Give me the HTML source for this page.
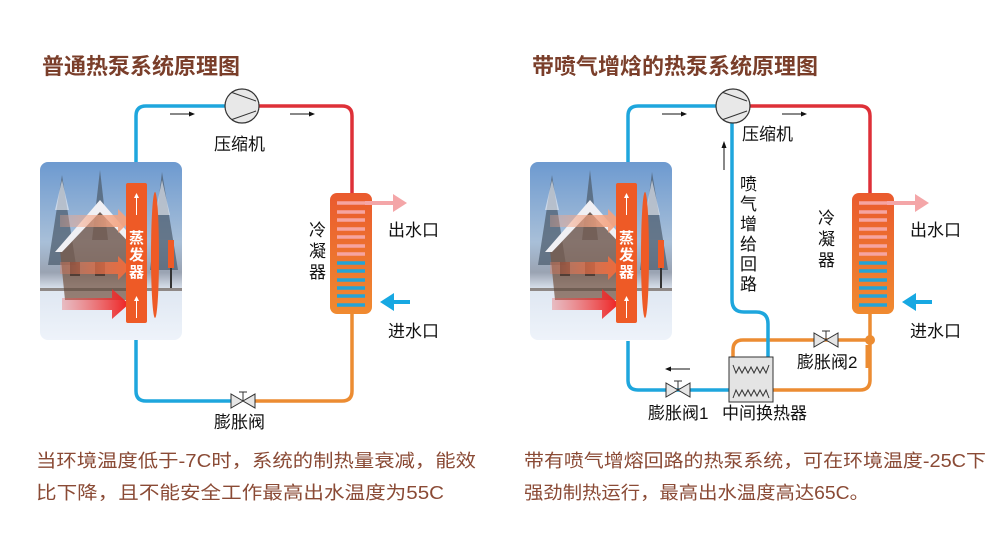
<!DOCTYPE html>
<html><head><meta charset="utf-8"><style>
body{margin:0;background:#fff}
svg{display:block}
text{font-family:"Liberation Sans","Noto Sans CJK SC",sans-serif}
</style></head><body>
<svg width="1000" height="550" viewBox="0 0 1000 550" xmlns="http://www.w3.org/2000/svg">
<defs>
<linearGradient id="sky" x1="0" y1="0" x2="0" y2="1">
<stop offset="0" stop-color="#6d9ad0"/><stop offset="0.45" stop-color="#a8bfd8"/><stop offset="0.62" stop-color="#9aa3b2"/><stop offset="0.72" stop-color="#dfe7f2"/><stop offset="1" stop-color="#eef3fa"/></linearGradient>
<linearGradient id="cond" x1="0" y1="0" x2="0" y2="1"><stop offset="0" stop-color="#ea5a2e"/><stop offset="1" stop-color="#f08a30"/></linearGradient>
<linearGradient id="ar1" x1="0" x2="1"><stop offset="0" stop-color="#f6a88a" stop-opacity="0.3"/><stop offset="1" stop-color="#f4a27e"/></linearGradient>
<linearGradient id="ar2" x1="0" x2="1"><stop offset="0" stop-color="#f08060" stop-opacity="0.3"/><stop offset="1" stop-color="#ee6a3a"/></linearGradient>
<linearGradient id="ar3" x1="0" x2="1"><stop offset="0" stop-color="#f05050" stop-opacity="0.3"/><stop offset="1" stop-color="#ee2020"/></linearGradient>
<g id="scene">
<rect x="40" y="162" width="142" height="178" rx="8" fill="url(#sky)"/>
<g fill="#4f5f70" opacity="0.75">
<polygon points="48,265 62,175 76,265"/><polygon points="92,240 100,170 108,240"/><polygon points="150,270 162,172 178,270"/>
</g>
<g fill="#f2f4f8" opacity="0.6"><polygon points="55,210 62,180 69,210"/><polygon points="155,215 162,180 170,215"/></g>
<polygon points="60,250 100,205 140,250 140,300 65,300" fill="#7a5a48" opacity="0.75"/>
<polygon points="55,252 100,200 145,252 138,252 100,212 62,252" fill="#f0f0f4"/>
<rect x="70" y="262" width="10" height="14" fill="#3a2a22" opacity="0.7"/><rect x="95" y="262" width="10" height="14" fill="#3a2a22" opacity="0.7"/>
<rect x="40" y="288" width="142" height="3" fill="#5a4a40" opacity="0.6"/>
<path d="M60 215 h58 v-6 l12 12 l-12 12 v-6 h-58z" fill="url(#ar1)"/>
<path d="M60 262 h58 v-6 l12 12 l-12 12 v-6 h-58z" fill="url(#ar2)"/>
<path d="M62 298 h50 v-9 l17 15 l-17 15 v-9 h-50z" fill="url(#ar3)"/>
<rect x="126" y="183" width="21" height="140" rx="2" fill="#ee5a26"/>
<line x1="136.5" y1="215" x2="136.5" y2="196" stroke="#fff" stroke-width="1"/><polygon points="134,198 139,198 136.5,193" fill="#fff"/>
<line x1="136.5" y1="318" x2="136.5" y2="299" stroke="#fff" stroke-width="1"/><polygon points="134,301 139,301 136.5,296" fill="#fff"/>
<text x="136.5" y="243" font-size="15" fill="#fff" text-anchor="middle" font-weight="bold">蒸</text>
<text x="136.5" y="260" font-size="15" fill="#fff" text-anchor="middle" font-weight="bold">发</text>
<text x="136.5" y="277" font-size="15" fill="#fff" text-anchor="middle" font-weight="bold">器</text>
<ellipse cx="155" cy="255" rx="4" ry="63" fill="#ee5a26"/>
<rect x="168" y="240" width="6" height="28" fill="#ee5a26"/>
<rect x="170" y="268" width="2" height="20" fill="#333"/>
</g>
<g id="vh"><polygon points="-12,-7 -12,7 0,0" fill="#e6e6e6" stroke="#333" stroke-width="1"/><polygon points="12,-7 12,7 0,0" fill="#e6e6e6" stroke="#333" stroke-width="1"/><line x1="0" y1="0" x2="0" y2="-9" stroke="#333"/><line x1="-4" y1="-9" x2="4" y2="-9" stroke="#333"/></g>
<g id="comp"><circle r="17" fill="#e8e8e8" stroke="#333" stroke-width="1.2"/><line x1="-10" y1="-13.5" x2="14" y2="-5" stroke="#333"/><line x1="-10" y1="13.5" x2="14" y2="5" stroke="#333"/></g>
<g id="arrowR"><line x1="0" y1="0" x2="22" y2="0" stroke="#111" stroke-width="1"/><polygon points="19,-2.5 25,0 19,2.5" fill="#111"/></g>
</defs>

<text x="42" y="74" font-size="22" font-weight="bold" fill="#7a3e2a">普通热泵系统原理图</text>
<text x="532" y="74" font-size="22" font-weight="bold" fill="#7a3e2a">带喷气增焓的热泵系统原理图</text>

<!-- LEFT -->
<g fill="none" stroke-width="3.5">
<path d="M136 162 V116 q0 -10 10 -10 H225" stroke="#1ea6dd"/>
<path d="M259 106 H342 q10 0 10 10 V193" stroke="#de3038"/>
<path d="M352 314 V391 q0 10 -10 10 H255" stroke="#ec8c32"/>
<path d="M231 401 H146 q-10 0 -10 -10 V340" stroke="#1ea6dd"/>
</g>
<use href="#comp" x="242" y="106"/>
<use href="#arrowR" x="170" y="114"/><use href="#arrowR" x="290" y="114"/>
<text x="214" y="150" font-size="17" fill="#111">压缩机</text>
<use href="#scene"/>
<rect x="330" y="193" width="42" height="121" rx="7" fill="url(#cond)"/>
<g stroke="#f6a4a0" stroke-width="3.5"><line x1="337" y1="203" x2="365" y2="203"/><line x1="337" y1="212" x2="365" y2="212"/><line x1="337" y1="220" x2="365" y2="220"/><line x1="337" y1="229" x2="365" y2="229"/><line x1="337" y1="237" x2="365" y2="237"/><line x1="337" y1="246" x2="365" y2="246"/><line x1="337" y1="254" x2="365" y2="254"/></g>
<g stroke="#24a3d6" stroke-width="3.5"><line x1="337" y1="263" x2="365" y2="263"/><line x1="337" y1="271" x2="365" y2="271"/><line x1="337" y1="280" x2="365" y2="280"/><line x1="337" y1="288" x2="365" y2="288"/><line x1="337" y1="296" x2="365" y2="296"/><line x1="337" y1="305" x2="365" y2="305"/></g>
<path d="M365 201 h28 v-7 l14 9 l-14 9 v-7 h-28z" fill="#f4a6a8"/>
<path d="M410 300 h-16 v-7 l-14 9 l14 9 v-7 h16z" fill="#17a8e2"/>
<text x="388" y="236" font-size="17" fill="#111">出水口</text>
<text x="388" y="337" font-size="17" fill="#111">进水口</text>
<text x="309" y="236" font-size="17" fill="#111">冷</text>
<text x="309" y="257" font-size="17" fill="#111">凝</text>
<text x="309" y="278" font-size="17" fill="#111">器</text>
<use href="#vh" x="243" y="401"/>
<text x="214" y="428" font-size="17" fill="#111">膨胀阀</text>

<!-- RIGHT -->
<g fill="none" stroke-width="3.5">
<path d="M628 162 V116 q0 -10 10 -10 H716" stroke="#1ea6dd"/>
<path d="M750 106 H860 q10 0 10 10 V193" stroke="#de3038"/>
<path d="M870 314 V380 q0 10 -10 10 H773" stroke="#ec8c32"/>
<path d="M870 340 H743 q-10 0 -10 10 V357" stroke="#ec8c32"/>
<path d="M729 390 H638 q-10 0 -10 -10 V341" stroke="#1ea6dd"/>
<path d="M732 122 V300 q0 12 12 12 H756 q12 0 12 12 V357" stroke="#1ea6dd"/>
</g>
<circle cx="870" cy="340" r="5" fill="#ec8c32"/>
<line x1="867" y1="345" x2="867" y2="368" stroke="#ec8c32" stroke-width="3"/>
<use href="#comp" x="733" y="106"/>
<use href="#arrowR" x="662" y="114"/><use href="#arrowR" x="782" y="114"/>
<line x1="724" y1="170" x2="724" y2="146" stroke="#111"/><polygon points="721.5,148 726.5,148 724,141" fill="#111"/>
<g transform="translate(690,369) scale(-1,1)"><use href="#arrowR"/></g>
<text x="742" y="140" font-size="17" fill="#111">压缩机</text>
<g font-size="17" fill="#111"><text x="740" y="190">喷</text><text x="740" y="210">气</text><text x="740" y="230">增</text><text x="740" y="250">给</text><text x="740" y="270">回</text><text x="740" y="290">路</text></g>
<g transform="translate(490,0)"><use href="#scene"/></g>
<rect x="852" y="193" width="42" height="121" rx="7" fill="url(#cond)"/>
<g stroke="#f6a4a0" stroke-width="3.5"><line x1="859" y1="203" x2="887" y2="203"/><line x1="859" y1="212" x2="887" y2="212"/><line x1="859" y1="220" x2="887" y2="220"/><line x1="859" y1="229" x2="887" y2="229"/><line x1="859" y1="237" x2="887" y2="237"/><line x1="859" y1="246" x2="887" y2="246"/><line x1="859" y1="254" x2="887" y2="254"/></g>
<g stroke="#24a3d6" stroke-width="3.5"><line x1="859" y1="263" x2="887" y2="263"/><line x1="859" y1="271" x2="887" y2="271"/><line x1="859" y1="280" x2="887" y2="280"/><line x1="859" y1="288" x2="887" y2="288"/><line x1="859" y1="296" x2="887" y2="296"/><line x1="859" y1="305" x2="887" y2="305"/></g>
<path d="M887 201 h28 v-7 l14 9 l-14 9 v-7 h-28z" fill="#f4a6a8"/>
<path d="M932 300 h-16 v-7 l-14 9 l14 9 v-7 h16z" fill="#17a8e2"/>
<text x="910" y="236" font-size="17" fill="#111">出水口</text>
<text x="910" y="337" font-size="17" fill="#111">进水口</text>
<g font-size="17" fill="#111"><text x="818" y="224">冷</text><text x="818" y="245">凝</text><text x="818" y="266">器</text></g>
<use href="#vh" x="826" y="340"/>
<text x="797" y="368" font-size="17" fill="#111">膨胀阀2</text>
<use href="#vh" x="678" y="390"/>
<text x="648" y="419" font-size="17" fill="#111">膨胀阀1</text>
<rect x="729" y="357" width="44" height="45" fill="#e4e4e4" stroke="#333" stroke-width="1"/>
<path d="M733 365 l3 8 l3 -6 l3 6 l3 -6 l3 6 l3 -6 l3 6 l3 -6 l3 6 l3 -6 l3 6 l3 -8" fill="none" stroke="#333" stroke-width="1"/>
<path d="M733 398 l3 -8 l3 6 l3 -6 l3 6 l3 -6 l3 6 l3 -6 l3 6 l3 -6 l3 6 l3 -6 l3 8" fill="none" stroke="#333" stroke-width="1"/>
<text x="722" y="419" font-size="17" fill="#111">中间换热器</text>

<g font-size="18" fill="#8a4a35">
<text x="36" y="467" textLength="440" lengthAdjust="spacingAndGlyphs">当环境温度低于-7C时，系统的制热量衰减，能效</text>
<text x="36" y="499" textLength="408" lengthAdjust="spacingAndGlyphs">比下降，且不能安全工作最高出水温度为55C</text>
<text x="524" y="467" textLength="462" lengthAdjust="spacingAndGlyphs">带有喷气增熔回路的热泵系统，可在环境温度-25C下</text>
<text x="524" y="499" textLength="345" lengthAdjust="spacingAndGlyphs">强劲制热运行，最高出水温度高达65C。</text>
</g>
</svg>
</body></html>
